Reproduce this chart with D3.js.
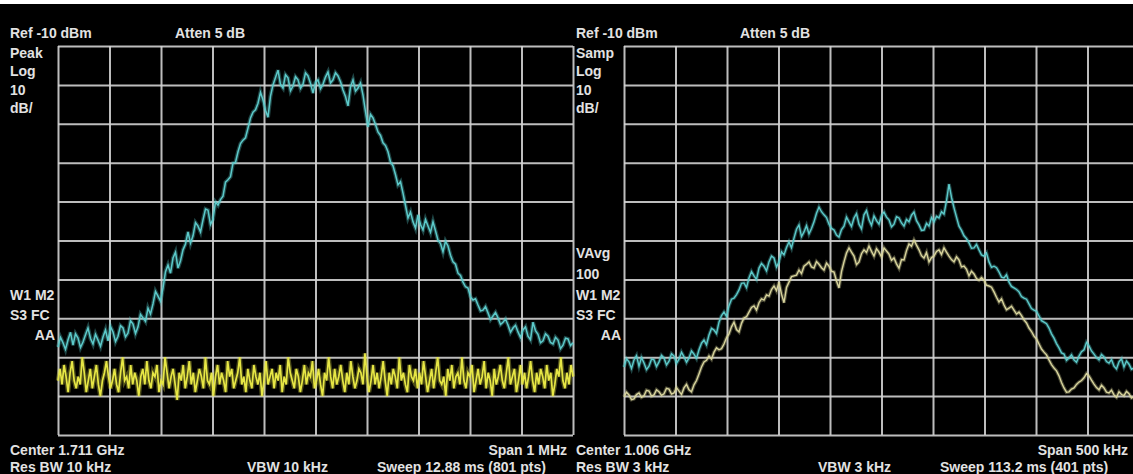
<!DOCTYPE html>
<html><head><meta charset="utf-8">
<script src="https://cdn.jsdelivr.net/npm/d3@7/dist/d3.min.js"></script>
<style>
html,body{margin:0;padding:0;background:#000;}
svg{display:block;}
text{font-family:"Liberation Sans",Arial,sans-serif;font-weight:bold;font-size:14px;fill:#e2e2e2;}
</style></head>
<body>
<script>
// ---------- DATA ----------
const refLevel = -10;          // dBm
const dbPerDiv = 10;
const divisions = 10;

// Left panel: Peak detector
const leftCenterMHz = 1711;
const leftSpanMHz = 1;
const leftTopText = ["Ref -10 dBm", "Atten 5 dB"];
const leftSideTop = ["Peak", "Log", "10", "dB/"];
const leftSideBottom = ["W1 M2", "S3 FC", "AA"];
const leftBottom = ["Center 1.711 GHz", "Span 1 MHz", "Res BW 10 kHz", "VBW 10 kHz", "Sweep 12.88 ms (801 pts)"];

const leftCyan = [
-87.4,-84.9,-86.3,-88.0,-85.6,-83.6,-86.9,-84.0,-85.1,-87.5,-86.1,-84.2,-82.5,-85.2,-86.6,-84.1,-85.6,-87.2,-84.8,-83.0,
-85.8,-82.1,-83.5,-86.0,-84.6,-81.9,-82.5,-84.8,-83.8,-80.6,-81.5,-83.9,-82.2,-79.0,-79.9,-80.8,-77.4,-78.9,-76.3,-73.1,
-74.3,-75.6,-72.2,-68.0,-66.3,-68.4,-64.5,-63.0,-67.1,-65.2,-62.4,-60.9,-57.8,-60.7,-58.8,-55.4,-56.3,-57.8,-54.7,-51.9,
-52.2,-55.9,-54.5,-50.1,-50.9,-49.5,-48.6,-45.0,-44.4,-43.6,-40.1,-39.9,-37.2,-35.1,-34.2,-33.6,-31.1,-28.5,-27.0,-26.4,
-24.7,-21.9,-23.9,-26.5,-28.3,-22.9,-20.0,-18.1,-16.2,-19.9,-20.8,-17.4,-18.2,-21.5,-20.3,-17.9,-18.7,-20.9,-19.8,-16.9,
-17.7,-19.6,-22.1,-19.3,-18.7,-21.0,-19.8,-18.0,-16.7,-19.5,-18.7,-16.9,-17.7,-19.2,-21.3,-23.0,-25.4,-20.5,-18.7,-21.6,
-20.8,-19.5,-22.6,-26.9,-30.8,-27.6,-28.5,-30.2,-32.1,-33.0,-34.9,-35.6,-37.2,-39.8,-40.8,-43.1,-45.7,-44.9,-47.8,-51.0,
-54.2,-52.7,-55.2,-56.8,-53.4,-55.9,-57.3,-54.6,-56.3,-57.9,-55.2,-57.5,-59.9,-60.8,-62.9,-60.2,-61.4,-63.8,-65.5,-66.1,
-68.4,-69.0,-70.7,-71.9,-72.2,-74.5,-75.3,-75.0,-76.6,-78.1,-77.9,-77.0,-78.6,-80.3,-79.4,-78.5,-79.9,-81.6,-81.0,-80.2,
-81.7,-83.6,-82.5,-81.8,-83.5,-84.9,-83.0,-82.2,-84.6,-85.5,-81.0,-83.2,-84.1,-86.3,-85.8,-84.0,-84.6,-86.2,-86.6,-84.9,
-85.6,-87.8,-86.9,-85.1,-85.3,-87.0,-86.3];

const leftYellow = [
-96,-93,-97,-92,-95,-99,-94,-91,-96,-98,-95,-97,-90,-94,-99,-96,-93,-98,-95,-92,
-97,-100,-96,-94,-91,-95,-98,-96,-93,-97,-99,-94,-90,-96,-95,-98,-92,-97,-94,-96,
-100,-95,-93,-97,-91,-96,-98,-94,-95,-92,-99,-96,-97,-90,-94,-98,-95,-93,-97,-101,
-94,-96,-92,-98,-95,-91,-97,-94,-99,-96,-93,-95,-98,-90,-96,-97,-94,-100,-95,-92,
-97,-94,-96,-99,-91,-95,-93,-98,-96,-94,-90,-97,-95,-99,-93,-96,-98,-92,-95,-97,
-94,-100,-96,-91,-97,-95,-93,-98,-94,-96,-92,-99,-95,-97,-90,-94,-96,-98,-93,-95,
-99,-96,-92,-97,-94,-95,-91,-98,-96,-93,-97,-100,-94,-96,-90,-95,-98,-93,-97,-95,
-92,-96,-99,-94,-97,-91,-95,-98,-96,-93,-94,-97,-89,-95,-99,-96,-92,-97,-94,-98,
-95,-91,-96,-100,-94,-97,-93,-95,-98,-90,-96,-94,-97,-99,-92,-95,-96,-93,-98,-94,
-97,-91,-95,-99,-96,-93,-98,-94,-90,-96,-97,-95,-100,-93,-96,-92,-98,-95,-94,-97,
-90,-96,-98,-94,-95,-92,-99,-96,-93,-97,-95,-91,-98,-94,-96,-100,-93,-97,-95,-92,
-96,-98,-94,-90,-97,-95,-93,-99,-96,-92,-97,-94,-98,-95,-91,-96,-99,-94,-97,-93,
-95,-98,-92,-96,-94,-100,-97,-93,-95,-90,-96,-98,-94,-97,-92,-95];

// Right panel: Sample detector, video average 100
const rightCenterMHz = 1006;
const rightSpanMHz = 0.5;
const rightTopText = ["Ref -10 dBm", "Atten 5 dB"];
const rightSideTop = ["Samp", "Log", "10", "dB/"];
const rightSideBottom = ["VAvg", "100", "W1 M2", "S3 FC", "AA"];
const rightBottom = ["Center 1.006 GHz", "Span 500 kHz", "Res BW 3 kHz", "VBW 3 kHz", "Sweep 113.2 ms (401 pts)"];

const rightCyan = [
-92.5,-90.4,-91.2,-92.9,-90.7,-89.6,-92.3,-90.1,-91.5,-93.2,-92.3,-90.5,-90.7,-92.4,-91.2,-89.5,-90.2,-92.0,-91.0,-89.1,
-89.7,-91.6,-90.5,-88.7,-89.9,-91.3,-90.2,-88.4,-89.2,-90.3,-88.1,-86.4,-85.6,-86.8,-84.3,-82.6,-83.0,-83.9,-81.0,-79.3,
-78.4,-79.5,-76.8,-75.1,-74.8,-73.9,-72.7,-71.0,-70.9,-72.1,-69.6,-68.0,-69.1,-70.0,-67.1,-65.9,-66.6,-67.8,-65.5,-64.0,
-64.5,-66.8,-65.5,-62.9,-63.7,-61.8,-60.4,-61.9,-59.4,-57.1,-56.0,-59.0,-57.8,-56.2,-58.3,-56.9,-55.2,-53.0,-51.4,-52.6,
-53.4,-54.1,-55.8,-56.9,-57.3,-58.6,-59.1,-57.2,-56.3,-54.0,-55.2,-56.4,-54.2,-53.1,-55.8,-57.0,-53.4,-52.3,-54.7,-56.1,
-53.7,-54.9,-55.8,-53.6,-52.7,-54.0,-54.7,-56.5,-55.8,-53.9,-54.2,-55.5,-56.3,-54.6,-55.2,-53.5,-52.7,-54.9,-56.0,-57.4,
-57.3,-55.6,-56.3,-54.1,-55.2,-53.8,-54.2,-52.6,-53.2,-49.8,-45.5,-48.9,-51.6,-54.0,-56.3,-57.4,-58.8,-59.5,-60.6,-62.0,
-61.9,-61.0,-62.4,-63.7,-64.0,-63.2,-65.5,-66.9,-66.6,-67.0,-68.1,-69.4,-69.6,-68.8,-70.7,-71.8,-72.2,-72.6,-73.2,-74.4,
-74.8,-75.1,-76.3,-77.5,-77.9,-78.2,-79.4,-80.6,-81.0,-81.4,-82.5,-84.0,-85.1,-86.5,-87.6,-88.9,-89.2,-90.8,-90.2,-89.4,
-90.7,-91.3,-89.7,-88.6,-88.1,-86.2,-87.1,-88.4,-89.2,-90.1,-90.7,-89.3,-89.9,-91.1,-91.5,-90.6,-92.3,-93.0,-91.2,-90.4,
-92.5,-91.0,-91.8,-93.1,-92.8,-91.6,-92.3];

const rightYellow = [
-100.2,-99.0,-99.7,-100.9,-100.7,-99.6,-99.2,-100.3,-99.9,-98.5,-98.7,-100.0,-99.7,-98.4,-98.9,-99.8,-99.4,-98.0,-98.2,-99.5,
-99.2,-97.8,-98.7,-99.6,-97.9,-97.0,-98.4,-98.9,-97.1,-96.0,-94.3,-92.5,-91.2,-90.8,-89.7,-90.5,-88.7,-87.6,-88.1,-87.8,
-86.6,-85.0,-84.0,-82.2,-81.0,-82.9,-83.5,-81.3,-79.9,-79.6,-78.4,-77.2,-76.8,-77.9,-76.0,-75.0,-75.3,-74.0,-74.3,-72.6,
-71.7,-72.9,-70.7,-73.8,-76.0,-72.1,-70.7,-69.3,-69.1,-68.9,-67.6,-68.5,-66.6,-66.1,-65.5,-66.8,-67.1,-65.4,-66.1,-67.0,
-67.6,-65.8,-66.6,-67.9,-68.1,-70.4,-72.2,-68.0,-65.5,-63.2,-61.9,-63.0,-64.0,-66.2,-65.5,-63.4,-62.4,-63.1,-61.4,-62.8,
-64.0,-62.1,-63.0,-64.2,-61.9,-62.7,-63.5,-65.1,-64.5,-66.0,-67.1,-64.9,-65.0,-62.6,-60.9,-61.5,-59.9,-61.2,-62.4,-63.9,
-64.5,-63.1,-65.5,-64.4,-64.0,-62.8,-62.4,-63.6,-61.9,-63.0,-64.0,-64.9,-65.5,-64.2,-65.0,-66.8,-66.6,-67.4,-69.1,-67.9,
-68.6,-69.8,-70.2,-69.5,-70.2,-71.5,-71.7,-72.0,-73.2,-74.6,-75.8,-75.0,-76.6,-77.8,-77.4,-76.9,-77.9,-78.9,-78.4,-79.3,
-80.4,-81.2,-82.5,-83.4,-84.6,-85.3,-86.6,-87.9,-88.7,-89.4,-90.7,-91.9,-92.8,-93.5,-94.8,-96.5,-97.9,-99.0,-98.9,-98.2,
-97.9,-97.0,-96.4,-96.0,-95.3,-94.2,-94.8,-95.9,-96.9,-97.8,-98.4,-97.2,-97.9,-99.0,-99.2,-98.5,-99.7,-100.3,-98.9,-99.6,
-99.9,-98.8,-99.4,-100.5,-100.2,-99.1,-99.9];

// ---------- DRAWING ----------
const W = 1133, H = 474;
const svg = d3.select("body").append("svg").attr("width", W).attr("height", H);
svg.append("rect").attr("width", W).attr("height", H).attr("fill", "#000");
svg.append("rect").attr("width", W).attr("height", 4).attr("fill", "#fff");

const gridTop = 46, gridBottom = 435, gridW = 515;

function panel(cfg) {
  const g = svg.append("g");
  const f0 = cfg.center - cfg.span / 2, f1 = cfg.center + cfg.span / 2;
  const x = d3.scaleLinear().domain([f0, f1]).range([cfg.x0, cfg.x0 + gridW]);
  const y = d3.scaleLinear().domain([refLevel - dbPerDiv * divisions, refLevel]).range([gridBottom, gridTop]);

  const xt = d3.range(divisions + 1).map(i => f0 + i * cfg.span / divisions);
  const yt = d3.range(divisions + 1).map(i => refLevel - i * dbPerDiv);

  const gx = g.append("g").attr("transform", `translate(0,${gridBottom})`)
    .call(d3.axisBottom(x).tickValues(xt).tickSize(-(gridBottom - gridTop)).tickFormat(""));
  const gy = g.append("g").attr("transform", `translate(${cfg.x0},0)`)
    .call(d3.axisLeft(y).tickValues(yt).tickSize(-gridW).tickFormat(""));
  [gx, gy].forEach(a => {
    a.select(".domain").remove();
    a.selectAll("line").attr("stroke", "#d2d2d2").attr("stroke-width", 2).attr("opacity", 0.9);
  });

  cfg.traces.forEach(t => {
    const n = t.data.length;
    const line = d3.line()
      .x((d, i) => x(f0 + i * cfg.span / (n - 1)))
      .y(d => y(d));
    g.append("path").datum(t.data).attr("d", line)
      .attr("fill", "none").attr("stroke", t.color).attr("stroke-width", t.glow).attr("opacity", 0.33);
    g.append("path").datum(t.data).attr("d", line)
      .attr("fill", "none").attr("stroke", t.color).attr("stroke-width", t.w);
  });

  // texts
  g.append("text").attr("x", cfg.tx).attr("y", 38).text(cfg.top[0]);
  g.append("text").attr("x", cfg.attenX).attr("y", 38).text(cfg.top[1]);
  cfg.sideTop.forEach((s, i) => g.append("text").attr("x", cfg.tx).attr("y", 58 + i * 18.3).text(s));
  const sb = cfg.sideBottom;
  const ys = sb.length === 3 ? [300, 320, 340] : [258, 279, 300, 320, 340];
  sb.forEach((s, i) => {
    const last = i === sb.length - 1;
    g.append("text").attr("x", last ? cfg.x0 - 3 : cfg.tx).attr("y", ys[i])
      .attr("text-anchor", last ? "end" : "start").text(s);
  });
  g.append("text").attr("x", cfg.tx).attr("y", 455).text(cfg.bottom[0]);
  g.append("text").attr("x", cfg.spanX).attr("y", 455).attr("text-anchor", "end").text(cfg.bottom[1]);
  g.append("text").attr("x", cfg.tx).attr("y", 472).text(cfg.bottom[2]);
  g.append("text").attr("x", cfg.vbwX).attr("y", 472).text(cfg.bottom[3]);
  g.append("text").attr("x", cfg.sweepX).attr("y", 472).text(cfg.bottom[4]);
}

panel({
  x0: 58, center: leftCenterMHz, span: leftSpanMHz,
  traces: [{data: leftYellow, color: "#e6e645", w: 1.7, glow: 4.5}, {data: leftCyan, color: "#5ccaca", w: 1.5, glow: 4}],
  tx: 10, attenX: 175, spanX: 567, vbwX: 247, sweepX: 377,
  top: leftTopText, sideTop: leftSideTop, sideBottom: leftSideBottom, bottom: leftBottom
});
panel({
  x0: 624, center: rightCenterMHz, span: rightSpanMHz,
  traces: [{data: rightCyan, color: "#5ccaca", w: 1.4, glow: 3.6}, {data: rightYellow, color: "#d8d49c", w: 1.4, glow: 3.6}],
  tx: 576, attenX: 740, spanX: 1128, vbwX: 818, sweepX: 940,
  top: rightTopText, sideTop: rightSideTop, sideBottom: rightSideBottom, bottom: rightBottom
});
</script>
</body></html>
